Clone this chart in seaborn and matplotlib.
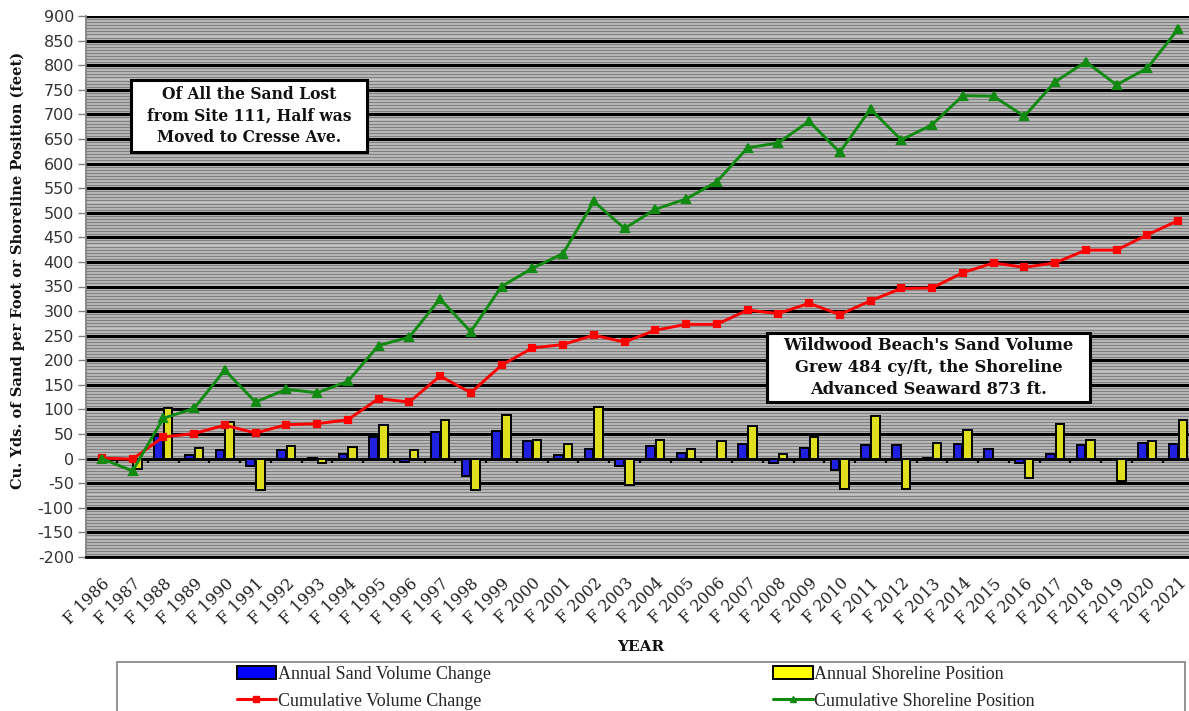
import matplotlib
matplotlib.use("Agg")
import numpy as np
import pandas as pd
import seaborn as sns
import matplotlib.pyplot as plt
from matplotlib.patches import Rectangle, Patch
from matplotlib.lines import Line2D
from matplotlib.ticker import MultipleLocator

# ---- data -------------------------------------------------------------
years = [f"F {y}" for y in range(1986, 2022)]

annual_volume = [0, -2, 47, 8, 17, -15, 17, 2, 10, 44, -6, 54, -35, 57, 36, 8,
                 20, -14, 26, 12, -1, 30, -9, 21, -23, 27, 28, 1, 30, 20, -8,
                 10, 27, -1, 31, 29]
annual_shoreline = [0, -22, 103, 22, 74, -64, 26, -9, 24, 68, 18, 79, -63, 89,
                    37, 29, 104, -54, 38, 20, 35, 67, 10, 43, -62, 87, -62, 32,
                    58, 0, -40, 70, 38, -46, 35, 79]
cumulative_volume = [1, -1, 44, 51, 68, 52, 69, 71, 79, 122, 115, 168, 134, 190,
                     225, 232, 251, 237, 261, 273, 273, 302, 295, 316, 293, 321,
                     346, 347, 378, 398, 389, 398, 424, 424, 455, 484]
cumulative_shoreline = [0, -25, 82, 102, 180, 115, 141, 134, 157, 230, 247, 325,
                        258, 350, 387, 417, 523, 468, 507, 528, 563, 632, 642,
                        686, 623, 711, 648, 679, 738, 737, 696, 766, 807, 760,
                        794, 873]

series_names = ["Annual Sand Volume Change", "Annual Shoreline Position",
                "Cumulative Volume Change", "Cumulative Shoreline Position"]

bars = pd.DataFrame({
    "year": years * 2,
    "series": [series_names[0]] * len(years) + [series_names[1]] * len(years),
    "value": annual_volume + annual_shoreline,
})

# ---- style ------------------------------------------------------------
sns.set_theme(style="white")
plt.rcParams["font.family"] = ["DejaVu Sans"]
plt.rcParams["axes.unicode_minus"] = False

W, H = 1189, 711
fig = plt.figure(figsize=(W / 100, H / 100), dpi=100)
ax = fig.add_axes([86.4 / W, 1 - 557 / H, (1193.4 - 86.4) / W, (557 - 16) / H])

# striped plot area
ax.set_facecolor("#c4c4c4")
ax.set_axisbelow(True)
ax.yaxis.set_major_locator(MultipleLocator(50))
ax.yaxis.set_minor_locator(MultipleLocator(50 / 8))
ax.grid(axis="y", which="minor", color="#808080", linewidth=1.0)
ax.grid(axis="y", which="major", color="black", linewidth=2.2)
ax.grid(axis="x", visible=False)

blue, yellow = "#0000ff", "#ffff00"
red, green = "#ff0000", "#108a10"

sns.barplot(data=bars, x="year", y="value", hue="series",
            hue_order=series_names[:2], palette=[blue, yellow],
            width=0.62, gap=0.1, edgecolor="black", linewidth=1.4,
            errorbar=None, legend=False, ax=ax, zorder=3)

sns.pointplot(x=years, y=cumulative_volume, color=red, markers="s",
              linestyles="-", markersize=5, linewidth=2.1,
              errorbar=None, ax=ax, zorder=5)
sns.pointplot(x=years, y=cumulative_shoreline, color=green, markers="^",
              linestyles="-", markersize=5.5, linewidth=2.1,
              errorbar=None, ax=ax, zorder=6)

# category ticks drawn on the zero line
ax.vlines(np.arange(0.5, len(years) - 1, 1), -9, 0, color="black",
          linewidth=1.6, zorder=4)
ax.axhline(0, color="black", linewidth=2.2, zorder=2)

ax.set_xlim(-0.5, len(years) - 0.5)
ax.set_ylim(-200, 900)
ax.set_xlabel("")
ax.set_ylabel("")

for s in ["top", "right"]:
    ax.spines[s].set_visible(False)
ax.spines["left"].set_color("#808080")
ax.spines["bottom"].set_color("black")
ax.spines["bottom"].set_linewidth(2)

ax.tick_params(axis="y", which="major", left=True, length=6, width=1,
               color="#808080", labelsize=11.5, labelcolor="#333333", pad=3)
ax.tick_params(axis="y", which="minor", left=False)
ax.tick_params(axis="x", bottom=False, pad=7)
for lab in ax.get_xticklabels():
    lab.set_rotation(45)
    lab.set_ha("right")
    lab.set_rotation_mode("anchor")
    lab.set_fontfamily("DejaVu Serif")
    lab.set_fontsize(11.5)
    lab.set_color("#222222")

# ---- text boxes -------------------------------------------------------
def boxed(x0, y0, x1, y1, text, size):
    fig.add_artist(Rectangle((x0 / W, 1 - y1 / H), (x1 - x0) / W, (y1 - y0) / H,
                             transform=fig.transFigure, facecolor="white",
                             edgecolor="black", linewidth=2.2, zorder=10))
    fig.text((x0 + x1) / 2 / W, 1 - (y0 + y1) / 2 / H, text, ha="center",
             va="center", fontfamily="DejaVu Serif", fontweight="bold",
             fontsize=size, linespacing=1.35, zorder=11, color="#111111")

boxed(131, 80, 367, 152,
      "Of All the Sand Lost\nfrom Site 111, Half was\nMoved to Cresse Ave.", 11.2)
boxed(767, 333, 1090, 402,
      "Wildwood Beach's Sand Volume\nGrew 484 cy/ft, the Shoreline\n"
      "Advanced Seaward 873 ft.", 11.8)

fig.text(18 / W, 1 - 270 / H,
         "Cu. Yds. of Sand per Foot or Shoreline Position (feet)",
         rotation=90, ha="center", va="center", fontfamily="DejaVu Serif",
         fontweight="bold", fontsize=10.5, color="#111111")
fig.text(641 / W, 1 - 647 / H, "YEAR", ha="center", va="center",
         fontfamily="DejaVu Serif", fontweight="bold", fontsize=11,
         color="#111111")

# ---- legend -----------------------------------------------------------
fig.add_artist(Rectangle((117 / W, -0.01), (1185 - 117) / W, 0.01 + 49 / H,
                         transform=fig.transFigure, facecolor="white",
                         edgecolor="#808080", linewidth=1.2, zorder=9))
handles = [
    Patch(facecolor=blue, edgecolor="black", linewidth=1.4),
    Line2D([], [], color=red, marker="s", markersize=5, linewidth=2.2),
    Patch(facecolor=yellow, edgecolor="black", linewidth=1.4),
    Line2D([], [], color=green, marker="^", markersize=5, linewidth=2.2),
]
labels = [series_names[0], series_names[2], series_names[1], series_names[3]]
leg = fig.legend(handles, labels, ncol=2, frameon=False,
                 loc="upper left", bbox_to_anchor=(233 / W, 1 - 662 / H),
                 prop={"family": "Liberation Serif", "size": 13},
                 handlelength=2.2, handleheight=0.7, handletextpad=0.1,
                 columnspacing=15.6, labelspacing=0.55, borderaxespad=0,
                 borderpad=0.2)
leg.set_zorder(12)

fig.savefig("out.png", dpi=100)
